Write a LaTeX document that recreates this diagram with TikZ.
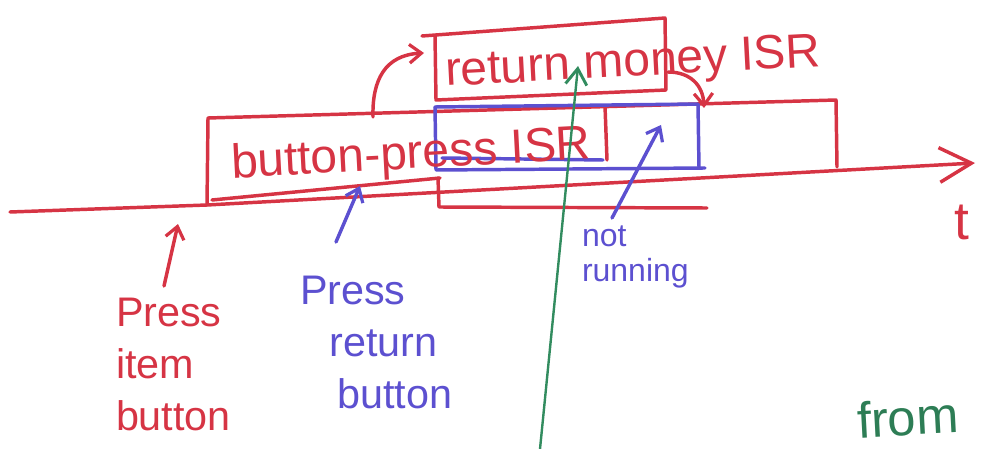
\documentclass[tikz,border=0pt]{standalone}
\usepackage{fontspec}
\setmainfont{Liberation Sans}
\usetikzlibrary{arrows.meta}
\definecolor{mred}{RGB}{214,52,68}
\definecolor{mblue}{RGB}{92,80,208}
\definecolor{mgreen}{RGB}{50,140,95}
\definecolor{mgreentext}{RGB}{45,125,85}
\begin{document}
\begin{tikzpicture}[x=0.75pt,y=-0.75pt,line cap=round,line join=round,
  pen/.style={line width=2.6pt},
  redpen/.style={pen,draw=mred},
  bluepen/.style={pen,draw=mblue},
  greenpen/.style={line width=1.8pt,draw=mgreen},
  tip/.style={-{Straight Barb[length=9pt,width=14pt,line width=2.4pt]}},
  txt/.style={inner sep=0pt,outer sep=0pt},
  redtxt/.style={txt,text=mred},
  bluetxt/.style={txt,text=mblue},
  big/.style={font=\fontsize{36}{40}\selectfont},
  mid/.style={font=\fontsize{31}{39}\selectfont},
  small/.style={font=\fontsize{24}{26}\selectfont}]
\useasboundingbox (0,0) rectangle (981,449);
\clip (0,0) rectangle (981,449);

% time axis
\coordinate (ax0) at (10,212);
\coordinate (ax1) at (207,205);
\coordinate (ax2) at (975,163);
\draw[redpen,-{Straight Barb[length=24pt,width=26pt,line width=2.6pt]}] (ax0) -- (ax1) -- (ax2);
\node[redtxt,font=\fontsize{40}{44}\selectfont] (t) at (962,222) {t};

% big red block (button-press ISR timeline bar)
\draw[redpen] (ax1) -- (208,118) -- (836,100) -- (837,167);
\draw[redpen] (605,106) -- (607,160);
\draw[redpen] (212,200) -- (440,178);

% lower red block
\draw[redpen] (438,178) -- (439,207) -- (707,208);

% return money box
\draw[redpen] (422,36) -- (665,18) -- (666,90) -- (436,100) -- (435,36);

% blue box (ISR interrupted)
\draw[bluepen] (435,107) -- (698,104) -- (699,168);
\draw[bluepen] (435,107) -- (436,170) -- (705,168);
\draw[bluepen] (442,158) -- (603,160);

% texts in boxes
\node[redtxt,big,rotate=3,anchor=base west] (bp) at (232,178) {button-press ISR};
\node[redtxt,big,rotate=3,anchor=base west] (rm) at (446,86) {return money ISR};

% curved arrows between ISRs
\coordinate (c1) at (373,117);
\coordinate (c2) at (424,53);
\draw[redpen,tip] (c1) .. controls (372,80) and (385,55) .. (c2);
\coordinate (c3) at (668,72);
\coordinate (c4) at (704,108);
\draw[redpen,tip] (c3) .. controls (690,72) and (703,85) .. (c4);

% green arrow
\coordinate (g0) at (540,449);
\coordinate (g1) at (578,66);
\draw[greenpen,-{Straight Barb[length=12pt,width=16pt,line width=2.2pt]}] (g0) -- (g1);

% labels below axis
\node[redtxt,mid,align=left,anchor=north west] (pib) at (116,298) {Press\\item\\button};
\coordinate (pibtip) at (178,224);
\draw[redpen,tip] (164,286) -- (pibtip);

\node[bluetxt,mid,align=left,anchor=north west] (prb) at (300,276) {Press\\\hspace*{22pt}return\\\hspace*{28pt}button};
\coordinate (prbtip) at (360,186);
\draw[bluepen,tip] (336,242) -- (prbtip);

\node[bluetxt,small,align=left,anchor=north west] (nr) at (582,226) {not\\running};
\coordinate (nrtip) at (661,125);
\draw[bluepen,tip] (612,218) -- (nrtip);

% green text at bottom
\node[txt,text=mgreentext,font=\fontsize{38}{42}\selectfont,rotate=3,anchor=base west] (from) at (858,438) {from};
\end{tikzpicture}
\end{document}
